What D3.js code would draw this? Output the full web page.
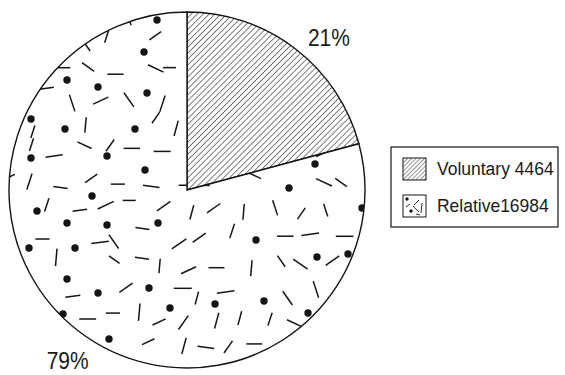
<!DOCTYPE html>
<html>
<head>
<meta charset="utf-8">
<script src="https://cdn.jsdelivr.net/npm/d3@7/dist/d3.min.js"></script>
<style>
  html, body { margin: 0; padding: 0; background: #fff; }
  svg { display: block; }
  text { font-family: "Liberation Sans", Arial, sans-serif; fill: #1a1a1a; }
</style>
</head>
<body>
<svg id="chart" width="565" height="375"></svg>
<script>
// Pie data: applicants by type
const categories = ["Voluntary", "Relative"];
const values = [4464, 16984];
const legendGaps = [" ", ""];            // spacing between name and count in the legend
const fills = ["url(#hatch)", "url(#confetti)"];
const swatchFills = ["url(#hatchSmall)", null];

const W = 565, H = 375;
const cx = 187, cy = 190, R = 178;
const ink = "#151515";

const svg = d3.select("#chart");
const defs = svg.append("defs");

// Diagonal hatch for the first slice
function hatchPattern(id, gap, sw) {
  const p = defs.append("pattern")
    .attr("id", id)
    .attr("patternUnits", "userSpaceOnUse")
    .attr("width", gap).attr("height", gap)
    .attr("patternTransform", "rotate(45)");
  p.append("rect").attr("width", gap).attr("height", gap).attr("fill", "#fff");
  p.append("line").attr("x1", 0).attr("y1", 0).attr("x2", 0).attr("y2", gap)
    .attr("stroke", ink).attr("stroke-width", sw);
}
hatchPattern("hatch", 4.2, 1.1);
hatchPattern("hatchSmall", 3, 0.9);

// Scattered dots and short dashes for the second slice (coordinates relative to the pie centre)
const texDots = [
  [157,20],[144,52],[67,80],[98,87],[147,93],[31,119],[65,129],[135,129],[31,158],[107,156],[145,170],
  [92,196],[37,211],[67,223],[107,225],[158,223],[29,248],[75,248],[67,279],[98,293],[149,288],
  [170,308],[63,314],[109,339],[289,188],[362,208],[256,240],[317,257],[348,254],[215,304],
  [264,301],[308,313],[315,164]
].map(([x, y]) => [x - cx, y - cy]);

function mulberry32(a) {
  return function() {
    a |= 0; a = a + 0x6D2B79F5 | 0;
    let t = Math.imul(a ^ a >>> 15, 1 | a);
    t = t + Math.imul(t ^ t >>> 7, 61 | t) ^ t;
    return ((t ^ t >>> 14) >>> 0) / 4294967296;
  };
}
const rand = mulberry32(20240517);
const dashAngles = [0, 0, 0, -8, 8, 25, -25, 35, -35, 55, -55, 72, -72, 95, 105];
const texDashes = [];
const step = 28;
for (let gy = -R - step; gy <= R + step; gy += step) {
  for (let gx = -R - step; gx <= R + step; gx += step) {
    const x = gx + (rand() - 0.5) * 18 + ((Math.round(gy / step)) % 2 ? step / 2 : 0);
    const y = gy + (rand() - 0.5) * 16;
    const a = dashAngles[Math.floor(rand() * dashAngles.length)] * Math.PI / 180;
    const len = 13 + rand() * 5;
    if (Math.hypot(x, y) > R + 8) continue;
    if (texDots.some(([dx, dy]) => Math.hypot(dx - x, dy - y) < 11)) continue;
    texDashes.push([x - Math.cos(a) * len / 2, y - Math.sin(a) * len / 2,
                    x + Math.cos(a) * len / 2, y + Math.sin(a) * len / 2]);
  }
}

const conf = defs.append("pattern")
  .attr("id", "confetti")
  .attr("patternUnits", "userSpaceOnUse")
  .attr("x", -R - 20).attr("y", -R - 20)
  .attr("width", 2 * R + 40).attr("height", 2 * R + 40);
const confG = conf.append("g").attr("transform", `translate(${R + 20},${R + 20})`);
confG.append("rect").attr("x", -R - 20).attr("y", -R - 20)
  .attr("width", 2 * R + 40).attr("height", 2 * R + 40).attr("fill", "#fff");
confG.selectAll("line").data(texDashes).join("line")
  .attr("x1", d => d[0]).attr("y1", d => d[1]).attr("x2", d => d[2]).attr("y2", d => d[3])
  .attr("stroke", ink).attr("stroke-width", 1.5);
confG.selectAll("circle").data(texDots).join("circle")
  .attr("cx", d => d[0]).attr("cy", d => d[1]).attr("r", 3.7).attr("fill", ink);

// Pie
const total = d3.sum(values);
const pie = d3.pie().sort(null).value(d => d)(values);
const arc = d3.arc().innerRadius(0).outerRadius(R);

const g = svg.append("g").attr("transform", `translate(${cx},${cy})`);
g.selectAll("path.slice").data(pie).join("path")
  .attr("class", "slice")
  .attr("d", arc)
  .attr("fill", (d, i) => fills[i])
  .attr("stroke", ink)
  .attr("stroke-width", 1.4)
  .attr("stroke-linejoin", "miter");

// Percentage labels outside the rim
const labelRadius = R * 1.17;
const labelTurn = [5.5, -2.5];   // degrees, nudges each label around the rim
g.selectAll("text.pct").data(pie).join("text")
  .attr("class", "pct")
  .attr("text-anchor", "middle")
  .attr("font-size", 21)
  .attr("transform", (d, i) => {
    const a = (d.startAngle + d.endAngle) / 2 + labelTurn[i] * Math.PI / 180;
    const x = Math.sin(a) * labelRadius;
    const y = -Math.cos(a) * labelRadius + 8;
    return `translate(${x},${y}) scale(1,1.1)`;
  })
  .text(d => Math.round(d.value / total * 100) + "%");

// Legend
const lg = svg.append("g").attr("transform", "translate(391,147)");
lg.append("rect").attr("width", 167).attr("height", 80)
  .attr("fill", "#fff").attr("stroke", ink).attr("stroke-width", 1.2);

const rowY = [11, 48];
const items = lg.selectAll("g.item").data(categories).join("g")
  .attr("class", "item")
  .attr("transform", (d, i) => `translate(12,${rowY[i]})`);

items.append("rect")
  .attr("width", 23).attr("height", 22)
  .attr("fill", (d, i) => swatchFills[i] || "#fff")
  .attr("stroke", ink).attr("stroke-width", 1);

// small confetti sample inside the second swatch
const sw2 = items.filter((d, i) => i === 1);
sw2.append("circle").attr("cx", 4).attr("cy", 4).attr("r", 1.7).attr("fill", ink);
sw2.append("circle").attr("cx", 8).attr("cy", 16).attr("r", 1.7).attr("fill", ink);
[[11, 10, 16, 5], [10, 11, 16, 17], [19, 8, 18, 18], [3, 12, 7, 9], [13, 19, 17, 20]]
  .forEach(s => sw2.append("line")
    .attr("x1", s[0]).attr("y1", s[1]).attr("x2", s[2]).attr("y2", s[3])
    .attr("stroke", ink).attr("stroke-width", 0.9));

items.append("text")
  .attr("font-size", 17.5)
  .attr("transform", "translate(34,17) scale(1,1.1)")
  .text((d, i) => d + legendGaps[i] + values[i]);
</script>
</body>
</html>
